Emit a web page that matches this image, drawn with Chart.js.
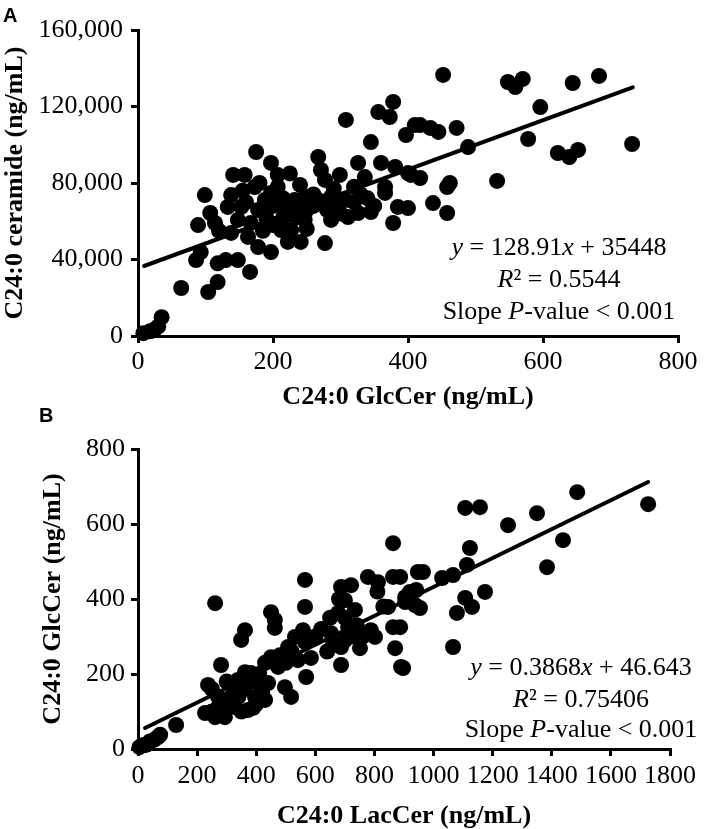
<!DOCTYPE html>
<html><head><meta charset="utf-8">
<script src="https://cdn.jsdelivr.net/npm/chart.js@4.4.1/dist/chart.umd.min.js"></script>
<style>
html,body{margin:0;padding:0;background:#fff;}
#wrap{position:relative;width:709px;height:829px;overflow:hidden;}
canvas{position:absolute;left:0;}
#ca{top:0;}
#cb{top:410px;}
.lbl{position:absolute;font-family:"Liberation Sans", Arial, sans-serif;font-weight:bold;font-size:20px;line-height:22px;color:#000;}
</style></head><body>
<div id="wrap">
<canvas id="ca" width="709" height="410"></canvas>
<canvas id="cb" width="709" height="419"></canvas>
<div class="lbl" style="left:3px;top:4px">A</div>
<div class="lbl" style="left:39px;top:404px">B</div>
</div>
<script>
// ---- Panel A: C24:0 GlcCer (x) vs C24:0 ceramide (y) ----
const glcCerA = [8,18,25,30,35,
 64,104,118,86,93,118,130,148,166,89,99,107,114,138,133,141,158,175,197,207,173,153,148,138,163,167,178,188,197,178,197,207,218,212,227,222,241,232,241,252,247,267,271,277,267,277,286,286,299,307,311,326,326,308,336,345,345,356,378,373,360,366,366,381,385,378,400,397,410,404,
 452,548,559,570,644,683,596,578,732,622,639,652,532,489,472,445,433,418,400,418,462,458,437,458,
 190,200,215,230,250,260,280,295,320,340,350,160,185,200,250,235,290,300,215,260,320,330,240,180,155,225,120];
const ceramideA = [1500,2500,3500,5000,9800,
 25100,23000,28200,39700,43900,38000,39700,39700,33500,58000,73700,64300,59100,73700,67500,84200,84200,96200,90500,84200,77900,67500,60700,53900,51800,59100,65900,71100,74800,46500,43900,77900,65900,55400,55400,49200,49200,71100,71100,72700,60700,93600,86800,81600,71100,48600,72700,60700,84200,71100,62200,90500,64300,113000,83100,101400,64800,117100,122400,114500,90500,77900,74800,88400,67500,59100,66900,105100,110300,84200,
 136500,132800,130200,134400,132300,136000,119700,103000,100400,95700,93600,97300,81100,98800,108800,106700,108800,110300,85200,82600,80000,77900,69500,64300,
 62000,68000,62000,66000,66000,68000,66000,70000,70000,72000,68000,70000,55000,58000,56000,62000,77000,64000,72000,74000,78000,74000,79000,80000,76000,85000,55000];
const fitLineAX = [9, 733];
const fitLineAY = [36600, 130000];
const xTicksA = [0,200,400,600,800];
const yTicksA = [0,40000,80000,120000,160000];

// ---- Panel B: C24:0 LacCer (x) vs C24:0 GlcCer (y) ----
const lacCerB = [5,15,24,30,40,55,68,75,
 129,261,281,237,227,261,294,271,315,349,362,362,382,338,328,372,396,416,440,430,450,463,463,450,474,497,518,508,531,558,565,565,565,585,569,541,653,677,687,721,700,711,687,687,734,751,778,812,788,802,863,863,846,863,870,890,904,941,947,937,
 1107,1157,1486,1726,1350,1252,1438,1384,1123,1113,964,1029,1066,1174,1107,1130,1079,1066,920,954,904,887,887,897,
 250,270,300,320,340,360,380,400,410,420,300,280,250,350,390,430,480,500,520,600,620,650,660,700,720,700,740,760,640,680,830,810];
const glcCerB = [5,10,11,12,20,25,32,38,
 64,389,224,171,96,85,85,139,139,291,317,205,203,184,112,104,139,165,176,131,365,344,323,245,219,165,139,272,299,317,451,379,285,243,192,237,309,363,432,437,397,325,272,224,371,269,459,445,317,299,459,549,379,325,269,219,405,424,472,384,
 643,645,685,653,629,597,557,485,536,491,472,456,464,419,403,379,363,272,419,376,392,459,325,216,
 160,110,120,170,140,160,180,120,200,150,180,100,100,100,110,230,250,230,260,300,320,350,280,350,300,290,330,300,260,400,380,420];
const fitLineBX = [24, 1726];
const fitLineBY = [56, 712];
const xTicksB = [0,200,400,600,800,1000,1200,1400,1600,1800];
const yTicksB = [0,200,400,600,800];

const SERIF = '"Liberation Serif", "Times New Roman", serif';

function pts(xs, ys){ return xs.map((x,i)=>({x, y: ys[i]})); }

function axis(o){
  return {
    type:'linear', position:o.position, min:o.ticks[0], max:o.ticks[o.ticks.length-1],
    afterBuildTicks: s => { s.ticks = o.ticks.map(v=>({value:v})); },
    afterFit: s => { if (o.width) s.width = o.width; if (o.height) s.height = o.height; },
    ticks:{ color:'#000', padding:o.pad, autoSkip:false, maxRotation:0,
      font:{family:SERIF, size:26, lineHeight:1},
      callback: v => o.comma ? Number(v).toLocaleString('en-US') : String(v) },
    grid:{ display:true, drawOnChartArea:false, drawTicks:true, tickLength:7, color:'#000', lineWidth:3 },
    border:{ display:true, color:'#000', width:3 },
    title:{ display:true, text:o.title, color:'#000', padding:o.tpad,
      font:{family:SERIF, size:26, weight:'bold', lineHeight:1} }
  };
}

function richPlugin(lines, dx, dys){
  return { id:'rich', afterDatasetsDraw(chart){
    const ctx = chart.ctx, a = chart.chartArea;
    const cx = a.right - dx;
    ctx.save(); ctx.fillStyle = '#000'; ctx.textBaseline = 'middle';
    lines.forEach((segs, i) => {
      let w = 0;
      segs.forEach(s => { ctx.font = (s.i?'italic ':'') + '26px ' + SERIF; s.w = ctx.measureText(s.t).width; w += s.w; });
      let x = cx - w/2; const y = a.bottom - dys[i];
      segs.forEach(s => { ctx.font = (s.i?'italic ':'') + '26px ' + SERIF; ctx.textAlign='left'; ctx.fillText(s.t, x, y); x += s.w; });
    });
    ctx.restore();
  }};
}

function makeChart(id, scatter, line, xo, yo, pad, lines, dx, dys){
  return new Chart(document.getElementById(id), {
    data:{ datasets:[
      { type:'scatter', data:scatter, backgroundColor:'#000', borderWidth:0, pointRadius:8, pointHoverRadius:8, clip:false },
      { type:'line', data:line, borderColor:'#000', borderWidth:4, pointRadius:0, borderCapStyle:'round', fill:false, clip:false }
    ]},
    options:{
      responsive:false, devicePixelRatio:1, animation:false,
      layout:{ padding:pad },
      plugins:{ legend:{display:false}, tooltip:{enabled:false} },
      scales:{ x:axis(xo), y:axis(yo) }
    },
    plugins:[richPlugin(lines, dx, dys)]
  });
}

makeChart('ca', pts(glcCerA, ceramideA), pts(fitLineAX, fitLineAY),
  {position:'bottom', ticks:xTicksA, pad:6, height:74, title:'C24:0 GlcCer (ng/mL)', tpad:{top:0,bottom:0}, comma:false},
  {position:'left', ticks:yTicksA, pad:8, width:138, title:'C24:0 ceramide (ng/mL)', tpad:{top:2,bottom:0}, comma:true},
  {left:0, right:31, top:30, bottom:0},
  [[{t:'y',i:true},{t:' = 128.91'},{t:'x',i:true},{t:' + 35448'}],
   [{t:'R',i:true},{t:'² = 0.5544'}],
   [{t:'Slope '},{t:'P',i:true},{t:'-value < 0.001'}]],
  119, [88,56,24]);

makeChart('cb', pts(lacCerB, glcCerB), pts(fitLineBX, fitLineBY),
  {position:'bottom', ticks:xTicksB, pad:7, height:80, title:'C24:0 LacCer (ng/mL)', tpad:{top:0,bottom:0}, comma:false},
  {position:'left', ticks:yTicksB, pad:6, width:138, title:'C24:0 GlcCer (ng/mL)', tpad:{top:40,bottom:0}, comma:false},
  {left:0, right:39, top:39, bottom:0},
  [[{t:'y',i:true},{t:' = 0.3868'},{t:'x',i:true},{t:' + 46.643'}],
   [{t:'R',i:true},{t:'² = 0.75406'}],
   [{t:'Slope '},{t:'P',i:true},{t:'-value < 0.001'}]],
  89, [81,49,19]);
</script>
</body></html>
